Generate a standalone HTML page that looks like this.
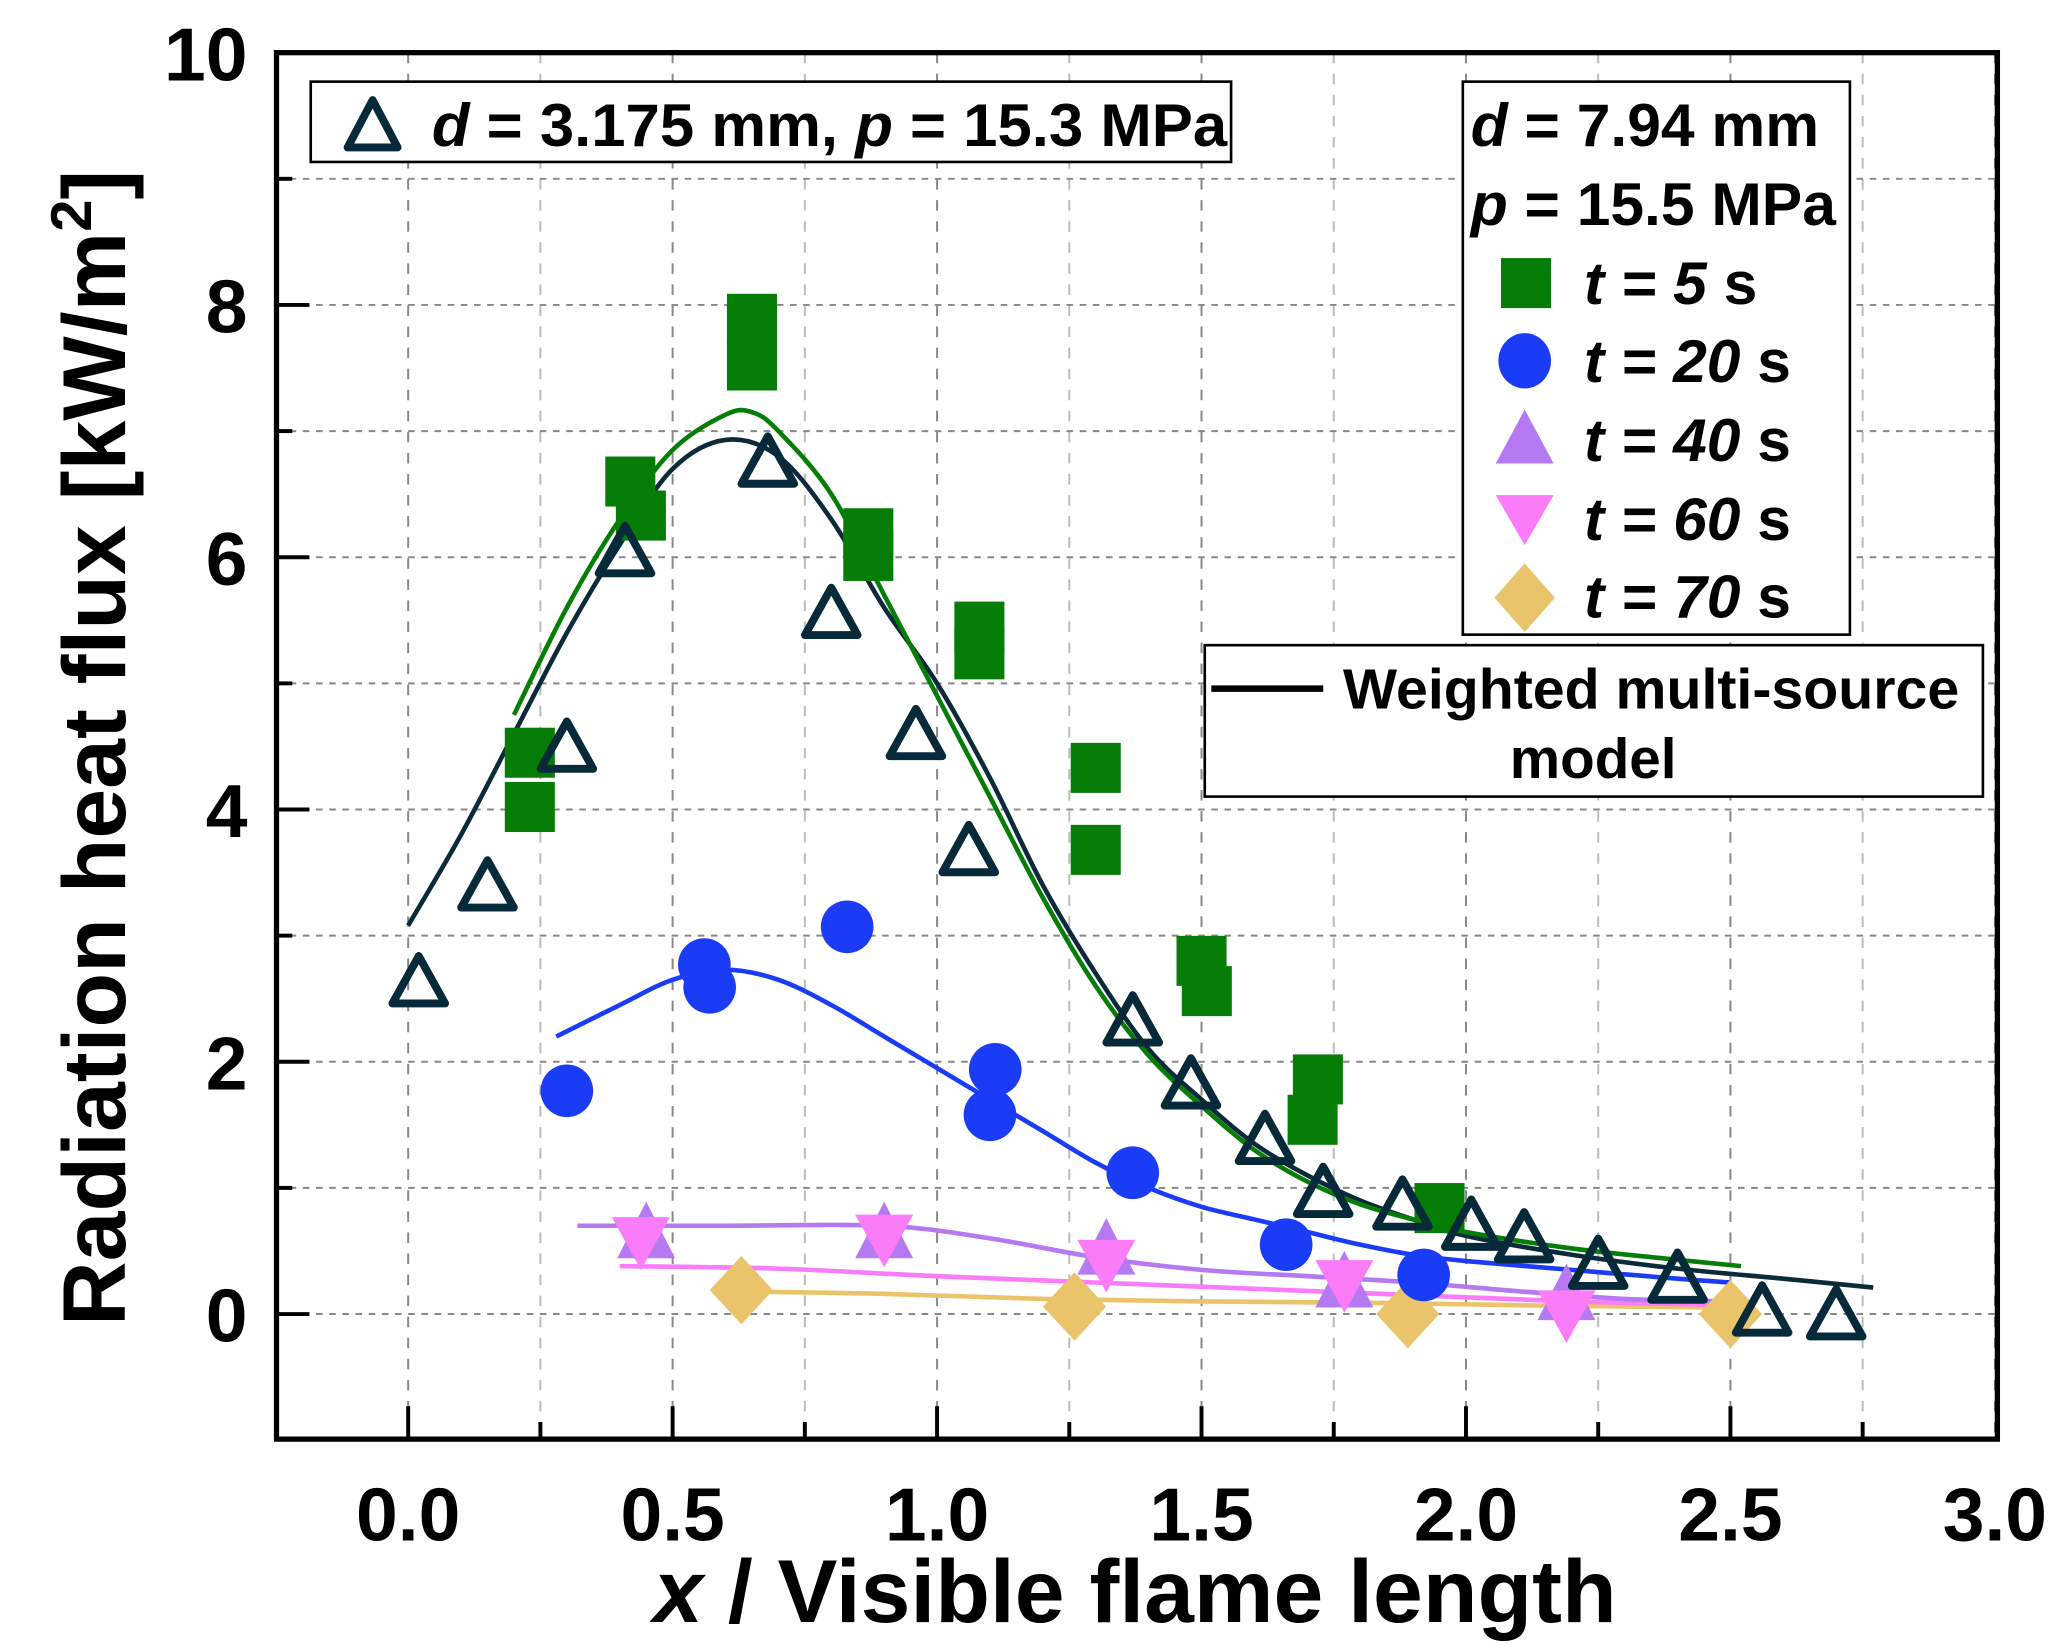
<!DOCTYPE html>
<html><head><meta charset="utf-8">
<style>
html,body{margin:0;padding:0;background:#fff;}
svg{display:block;font-family:"Liberation Sans",Arial,sans-serif;font-weight:bold;}
</style></head>
<body>
<svg id="chart" width="2054" height="1644" viewBox="0 0 1560 1248.6" xmlns="http://www.w3.org/2000/svg">
<g id="grid"></g>
<g id="curves"></g>
<g id="marks"></g>
<rect x="210" y="40" width="1307" height="1053" fill="none" stroke="#000" stroke-width="4"/>
<g id="ticks"></g>
<text x="862" y="1232" font-size="68" text-anchor="middle"><tspan font-style="italic">x</tspan> / Visible flame length</text>
<text transform="translate(95,568) rotate(-90)" font-size="68" text-anchor="middle">Radiation heat flux [kW/m<tspan font-size="44" dy="-26">2</tspan><tspan dy="26">]</tspan></text>

<g>
<rect x="236" y="62" width="699" height="61" fill="#fff" stroke="#000" stroke-width="2"/>
<polygon points="283,76 264,112 302,112" fill="none" stroke="#062a3a" stroke-width="6" stroke-linejoin="round"/>
<text x="328" y="111" font-size="46" textLength="604" lengthAdjust="spacingAndGlyphs"><tspan font-style="italic">d</tspan> = 3.175 mm, <tspan font-style="italic">p</tspan> = 15.3 MPa</text>
</g>
<g>
<rect x="1111" y="62" width="294" height="420" fill="#fff" stroke="#000" stroke-width="2"/>
<text x="1117" y="111" font-size="46"><tspan font-style="italic">d</tspan> = 7.94 mm</text>
<text x="1117" y="171" font-size="46"><tspan font-style="italic">p</tspan> = 15.5 MPa</text>
<rect x="1140" y="196" width="38" height="38" fill="#067d06"/>
<text x="1203" y="231" font-size="46"><tspan font-style="italic">t = 5</tspan> s</text>
<ellipse cx="1158" cy="274" rx="20" ry="21" fill="#1b3cf7"/>
<text x="1203" y="290" font-size="46"><tspan font-style="italic">t = 20</tspan> s</text>
<polygon points="1158,311 1136,352 1180,352" fill="#b57af2"/>
<text x="1203" y="350" font-size="46"><tspan font-style="italic">t = 40</tspan> s</text>
<polygon points="1136,376 1180,376 1158,414" fill="#fb7cf9"/>
<text x="1203" y="410" font-size="46"><tspan font-style="italic">t = 60</tspan> s</text>
<polygon points="1158,428 1181,454 1158,480 1135,454" fill="#e9c46a"/>
<text x="1203" y="469" font-size="46"><tspan font-style="italic">t = 70</tspan> s</text>
</g>
<g>
<rect x="915" y="490" width="591" height="115" fill="#fff" stroke="#000" stroke-width="2"/>
<line x1="920" y1="523" x2="1005" y2="523" stroke="#000" stroke-width="5"/>
<text x="1020" y="538" font-size="43" textLength="468" lengthAdjust="spacingAndGlyphs">Weighted multi-source</text>
<text x="1210" y="591" font-size="43" text-anchor="middle">model</text>
</g>

<script>
const xTicks = [0.0, 0.5, 1.0, 1.5, 2.0, 2.5, 3.0];
const yTicks = [0, 2, 4, 6, 8, 10];
const triX = [0.02,0.15,0.30,0.41,0.68,0.80,0.96,1.06,1.37,1.48,1.62,1.73,1.88,2.01,2.11,2.25,2.40,2.56,2.70];
const triY = [2.64,3.40,4.50,6.05,6.76,5.56,4.60,3.68,2.33,1.83,1.39,0.97,0.87,0.71,0.61,0.40,0.29,0.03,0.0];
const t5X = [0.23,0.23,0.42,0.44,0.65,0.65,0.87,0.87,1.08,1.08,1.30,1.30,1.50,1.51,1.72,1.71,1.95];
const t5Y = [4.45,4.02,6.60,6.33,7.89,7.52,6.19,6.01,5.23,5.45,4.33,3.68,2.80,2.56,1.86,1.54,0.84];
const t20X = [0.30,0.56,0.57,0.83,1.11,1.10,1.37,1.66,1.92];
const t20Y = [1.77,2.77,2.59,3.07,1.94,1.58,1.12,0.55,0.31];
const t40X = [0.45,0.90,1.32,1.77,2.19];
const t40Y = [0.63,0.63,0.50,0.24,0.14];
const t60X = [0.44,0.90,1.32,1.77,2.19];
const t60Y = [0.58,0.60,0.40,0.24,0.00];
const t70X = [0.63,1.26,1.89,2.50];
const t70Y = [0.19,0.06,0.00,0.00];
const mDarkX = [0,0.1,0.2,0.3,0.4,0.5,0.6,0.7,0.8,0.9,1.0,1.1,1.2,1.3,1.4,1.5,1.6,1.7,1.8,1.9,2.0,2.2,2.4,2.6,2.77];
const mDarkY = [3.08,3.8,4.6,5.4,6.1,6.7,6.93,6.8,6.3,5.6,5.0,4.25,3.4,2.7,2.1,1.7,1.35,1.1,0.9,0.75,0.62,0.47,0.36,0.28,0.21];
const m5X = [0.2,0.3,0.4,0.5,0.6,0.65,0.7,0.8,0.9,1.0,1.1,1.2,1.3,1.4,1.5,1.6,1.7,1.8,1.9,2.0,2.2,2.4,2.52];
const m5Y = [4.75,5.6,6.3,6.85,7.13,7.15,7.0,6.5,5.7,4.9,4.1,3.3,2.6,2.05,1.65,1.3,1.05,0.87,0.75,0.65,0.52,0.43,0.38];
const m20X = [0.28,0.4,0.5,0.6,0.7,0.8,0.9,1.0,1.1,1.2,1.3,1.4,1.5,1.6,1.7,1.8,1.9,2.0,2.2,2.4,2.5];
const m20Y = [2.2,2.45,2.65,2.73,2.65,2.45,2.2,1.95,1.7,1.45,1.2,1.0,0.85,0.75,0.65,0.55,0.47,0.42,0.35,0.28,0.25];
const m40X = [0.32,0.6,0.9,1.1,1.3,1.5,1.7,1.9,2.1,2.3,2.5];
const m40Y = [0.7,0.7,0.7,0.6,0.45,0.35,0.3,0.25,0.18,0.12,0.1];
const m60X = [0.4,0.7,1.0,1.3,1.6,1.9,2.2,2.5];
const m60Y = [0.38,0.36,0.3,0.25,0.2,0.15,0.1,0.07];
const m70X = [0.6,0.9,1.2,1.5,1.8,2.1,2.5];
const m70Y = [0.18,0.16,0.12,0.1,0.09,0.07,0.05];

const NS = "http://www.w3.org/2000/svg";
const X = v => 310 + v * 401.7;
const Y = v => 998 - v * 95.8;
function mk(tag, parent, attrs) {
  const e = document.createElementNS(NS, tag);
  for (const k in attrs) e.setAttribute(k, attrs[k]);
  parent.appendChild(e);
  return e;
}
const grid = document.getElementById('grid');
const ticks = document.getElementById('ticks');
const curves = document.getElementById('curves');
const marks = document.getElementById('marks');

for (let v = -0.25; v <= 3.001; v += 0.25) {
  const isMajor = Math.abs(v * 2 - Math.round(v * 2)) < 1e-6;
  const gl = mk('line', grid, {x1: X(v), x2: X(v), y1: 40, y2: 1093, stroke: isMajor ? '#888' : '#bbb', 'stroke-width': 1.5, 'stroke-dasharray': '8 8'});
  
  
  if (v >= 0 && v < 3) {
    const tk = mk('line', ticks, {x1: X(v), x2: X(v), y1: 1093, y2: isMajor ? 1068 : 1080, stroke: '#000', 'stroke-width': 3});
    
    
  }
}
for (let v = -1; v <= 10; v += 1) {
  const gl = mk('line', grid, {x1: 210, x2: 1517, y1: Y(v), y2: Y(v), stroke: '#888', 'stroke-width': 1.5, 'stroke-dasharray': '5 5'});
  
  
  if (v > -1 && v < 10) {
    const tk = mk('line', ticks, {x1: 210, x2: v % 2 === 0 ? 235 : 222, y1: Y(v), y2: Y(v), stroke: '#000', 'stroke-width': 3});
    
    
  }
}
xTicks.forEach(v => {
  const t = mk('text', ticks, {x: X(v), y: 1170, 'font-size': 57, 'text-anchor': 'middle'});
  t.textContent = v.toFixed(1);
  
  
});
yTicks.forEach(v => {
  const t = mk('text', ticks, {x: 188, y: Y(v) + 21, 'font-size': 57, 'text-anchor': 'end'});
  t.textContent = String(v);
  
  
});

function curve(xs, ys, color, name) {
  const pts = xs.map((x, i) => [X(x), Y(ys[i])]);
  let d = 'M' + pts[0][0] + ',' + pts[0][1];
  for (let i = 0; i < pts.length - 1; i++) {
    const p0 = pts[Math.max(0, i - 1)], p1 = pts[i], p2 = pts[i + 1], p3 = pts[Math.min(pts.length - 1, i + 2)];
    const c1 = [p1[0] + (p2[0] - p0[0]) / 6, p1[1] + (p2[1] - p0[1]) / 6];
    const c2 = [p2[0] - (p3[0] - p1[0]) / 6, p2[1] - (p3[1] - p1[1]) / 6];
    d += ' C' + c1 + ' ' + c2 + ' ' + p2;
  }
  const p = mk('path', curves, {d: d, fill: 'none', stroke: color, 'stroke-width': 3.5});
  
  
}
curve(m70X, m70Y, '#e9c46a', 'model-curve-t70');
curve(m60X, m60Y, '#fb7cf9', 'model-curve-t60');
curve(m40X, m40Y, '#b57af2', 'model-curve-t40');
curve(m20X, m20Y, '#1b3cf7', 'model-curve-t20');
curve(mDarkX, mDarkY, '#0b2a3a', 'model-curve-small-nozzle');
curve(m5X, m5Y, '#067d06', 'model-curve-t5');

function pts(xs, ys, fn) { xs.forEach((x, i) => fn(X(x), Y(ys[i]))); }
pts(t70X, t70Y, (cx, cy) => {
  const e = mk('polygon', marks, {points: `${cx},${cy-26} ${cx+24},${cy} ${cx},${cy+26} ${cx-24},${cy}`, fill: '#e9c46a'});
  
  
});
pts(t40X, t40Y, (cx, cy) => {
  const e = mk('polygon', marks, {points: `${cx},${cy-25} ${cx-22},${cy+18} ${cx+22},${cy+18}`, fill: '#b57af2'});
  
  
});
pts(t60X, t60Y, (cx, cy) => {
  const e = mk('polygon', marks, {points: `${cx-22},${cy-18} ${cx+22},${cy-18} ${cx},${cy+22}`, fill: '#fb7cf9'});
  
  
});
pts(t20X, t20Y, (cx, cy) => {
  const e = mk('circle', marks, {cx: cx, cy: cy, r: 20, fill: '#1b3cf7'});
  
  
});
pts(t5X, t5Y, (cx, cy) => {
  const e = mk('rect', marks, {x: cx - 19, y: cy - 19, width: 38, height: 38, fill: '#067d06'});
  
  
});
pts(triX, triY, (cx, cy) => {
  const e = mk('polygon', marks, {points: `${cx},${cy-19} ${cx-20},${cy+17} ${cx+20},${cy+17}`, fill: 'none', stroke: '#062a3a', 'stroke-width': 6, 'stroke-linejoin': 'round'});
  
  
});
</script>
</svg>
</body></html>
